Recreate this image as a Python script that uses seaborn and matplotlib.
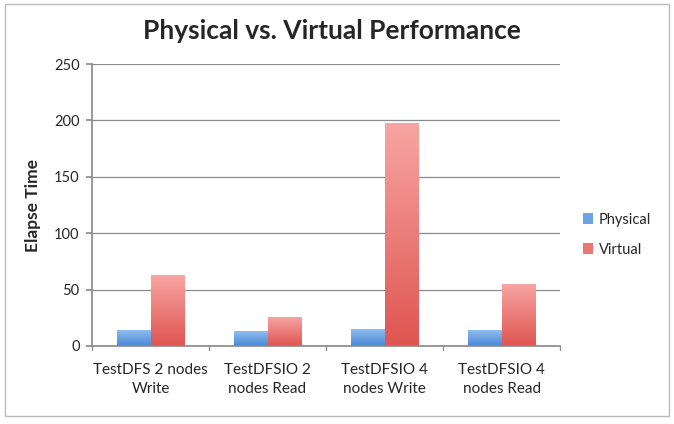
import matplotlib
matplotlib.use("Agg")
import matplotlib.pyplot as plt
import seaborn as sns
import pandas as pd
import numpy as np
from matplotlib.patches import Rectangle
from matplotlib.colors import LinearSegmentedColormap

categories = ["TestDFS 2 nodes\nWrite", "TestDFSIO 2\nnodes Read", "TestDFSIO 4\nnodes Write", "TestDFSIO 4\nnodes Read"]
physical = [14, 13, 15, 14]
virtual = [63, 26, 198, 55]
series = ["Physical", "Virtual"]

df = pd.DataFrame({
    "Test": categories * 2,
    "Series": ["Physical"] * 4 + ["Virtual"] * 4,
    "Time": physical + virtual,
})

sns.set_theme(style="white")
plt.rcParams['font.family'] = ['Lato', 'DejaVu Sans']

fig = plt.figure(figsize=(6.74, 4.24), dpi=100)
fig.patches.append(Rectangle((0.008, 0.02), 0.984, 0.97, transform=fig.transFigure,
                             fill=False, edgecolor="#bbbbbb", linewidth=1))
ax = fig.add_axes([0.1365, 0.184, 0.6945, 0.665])

palette = {"Physical": "#6aa4e4", "Virtual": "#ea7772"}
sns.barplot(data=df, x="Test", y="Time", hue="Series", palette=palette,
            width=0.58, saturation=1, ax=ax, legend=True)

ax.set_ylim(0, 250)
ax.set_xlim(-0.5, 3.5)

# gradient fills per bar
grads = {
    "Physical": LinearSegmentedColormap.from_list("p", ["#4a88d6", "#8fbdf0"]),
    "Virtual": LinearSegmentedColormap.from_list("v", ["#df5551", "#f8a6a4"]),
}
for container, name in zip(ax.containers, series):
    for bar in container:
        x0, y0 = bar.get_x(), bar.get_y()
        w, h = bar.get_width(), bar.get_height()
        grad = np.linspace(0, 1, 256).reshape(-1, 1)
        im = ax.imshow(grad, cmap=grads[name], origin="lower", aspect="auto",
                       extent=[x0, x0 + w, y0, y0 + h], zorder=bar.get_zorder())
        im.set_clip_path(bar)
        bar.set_facecolor("none")
        bar.set_edgecolor("none")
ax.set_xlim(-0.5, 3.5)
ax.set_ylim(0, 250)
ax.set_aspect("auto")

ax.set_yticks([0, 50, 100, 150, 200, 250])
ax.yaxis.grid(True, color="#8c8c8c", linewidth=0.9)
ax.set_axisbelow(True)
for s in ["top", "right"]:
    ax.spines[s].set_visible(False)
ax.spines["left"].set_color("#8c8c8c")
ax.spines["bottom"].set_color("#8c8c8c")
ax.tick_params(axis="y", length=4, color="#8c8c8c", labelsize=10.5, left=True, pad=5)
ax.tick_params(axis="x", length=0, labelsize=11, pad=12)
for lbl in ax.get_xticklabels():
    lbl.set_linespacing(1.45)
for i in range(len(categories) + 1):
    ax.plot([i - 0.5, i - 0.5], [0, -4], color="#8c8c8c", lw=0.9, clip_on=False)
ax.set_xlabel("")
ax.set_ylabel("Elapse Time", fontsize=12.5, fontweight="bold", labelpad=9)
fig.suptitle("Physical vs. Virtual Performance", fontsize=19, fontweight="bold", y=0.955, x=0.493)

leg = ax.legend(loc="center left", bbox_to_anchor=(1.02, 0.395), frameon=False, fontsize=10.5,
                handlelength=0.7, handleheight=0.7, handletextpad=0.4, labelspacing=1.1)
for h, c in zip(leg.legend_handles, ["#6aa4e4", "#ea7772"]):
    h.set_facecolor(c)
    h.set_edgecolor("none")

fig.savefig("out.png", dpi=100)
